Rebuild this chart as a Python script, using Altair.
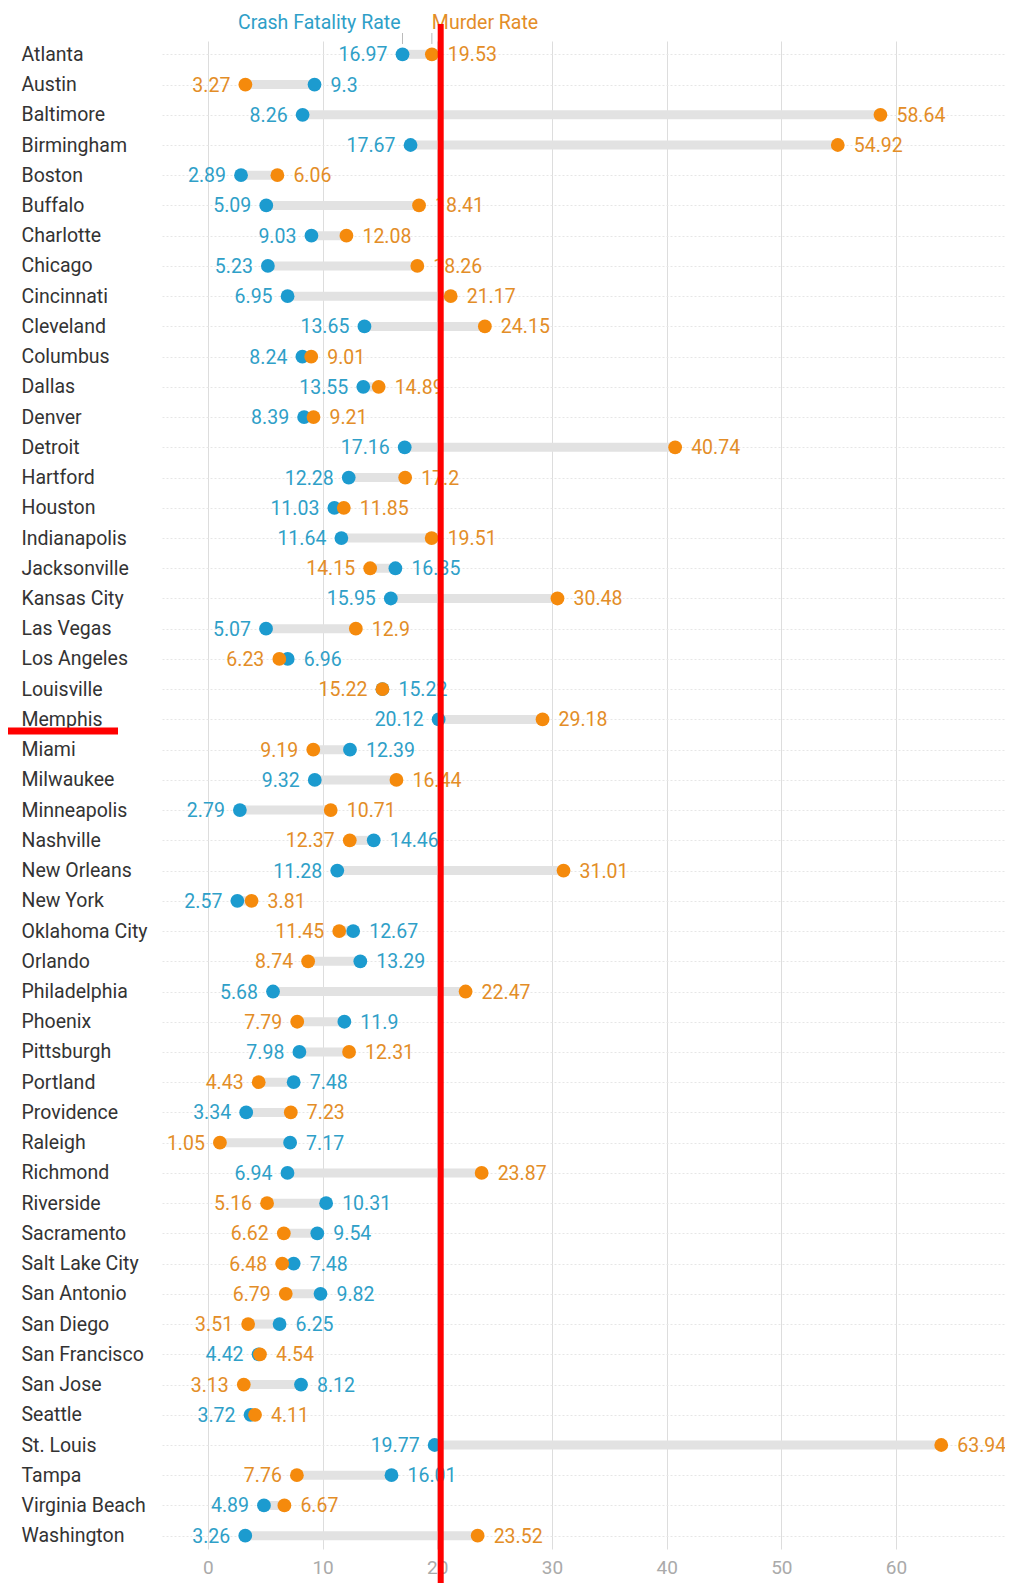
import altair as alt
import pandas as pd

cities = ["Atlanta", "Austin", "Baltimore", "Birmingham", "Boston", "Buffalo", "Charlotte",
          "Chicago", "Cincinnati", "Cleveland", "Columbus", "Dallas", "Denver", "Detroit",
          "Hartford", "Houston", "Indianapolis", "Jacksonville", "Kansas City", "Las Vegas",
          "Los Angeles", "Louisville", "Memphis", "Miami", "Milwaukee", "Minneapolis",
          "Nashville", "New Orleans", "New York", "Oklahoma City", "Orlando", "Philadelphia",
          "Phoenix", "Pittsburgh", "Portland", "Providence", "Raleigh", "Richmond",
          "Riverside", "Sacramento", "Salt Lake City", "San Antonio", "San Diego",
          "San Francisco", "San Jose", "Seattle", "St. Louis", "Tampa", "Virginia Beach",
          "Washington"]
crash = [16.97, 9.3, 8.26, 17.67, 2.89, 5.09, 9.03,
         5.23, 6.95, 13.65, 8.24, 13.55, 8.39, 17.16,
         12.28, 11.03, 11.64, 16.35, 15.95, 5.07,
         6.96, 15.22, 20.12, 12.39, 9.32, 2.79,
         14.46, 11.28, 2.57, 12.67, 13.29, 5.68,
         11.9, 7.98, 7.48, 3.34, 7.17, 6.94,
         10.31, 9.54, 7.48, 9.82, 6.25,
         4.42, 8.12, 3.72, 19.77, 16.01, 4.89,
         3.26]
murder = [19.53, 3.27, 58.64, 54.92, 6.06, 18.41, 12.08,
          18.26, 21.17, 24.15, 9.01, 14.89, 9.21, 40.74,
          17.2, 11.85, 19.51, 14.15, 30.48, 12.9,
          6.23, 15.22, 29.18, 9.19, 16.44, 10.71,
          12.37, 31.01, 3.81, 11.45, 8.74, 22.47,
          7.79, 12.31, 4.43, 7.23, 1.05, 23.87,
          5.16, 6.62, 6.48, 6.79, 3.51,
          4.54, 3.13, 4.11, 63.94, 7.76, 6.67,
          23.52]
series_names = ["Crash Fatality Rate", "Murder Rate"]
x_ticks = [0, 10, 20, 30, 40, 50, 60]
marker_value = [20.3]
marker_city = ["Memphis"]

BLUE = "#1c9bcf"
ORANGE = "#f58a0c"
BLUE_T = "#2f9fc8"
ORANGE_T = "#e38d27"
FONT = "Roboto"

wide = pd.DataFrame({"city": cities, "crash": crash, "murder": murder})
wide["lo"] = wide[["crash", "murder"]].min(axis=1)
wide["hi"] = wide[["crash", "murder"]].max(axis=1)

rows = []
for c, cr, mu in zip(cities, crash, murder):
    crash_left = cr < mu
    rows.append({"city": c, "series": series_names[0], "value": cr,
                 "side": "left" if crash_left else "right", "label": f"{cr:g}"})
    rows.append({"city": c, "series": series_names[1], "value": mu,
                 "side": "right" if crash_left else "left", "label": f"{mu:g}"})
long = pd.DataFrame(rows)

xscale = alt.Scale(domain=[-4, 69.5], nice=False, zero=False)
xaxis = alt.Axis(values=x_ticks, title=None, domain=False, ticks=False,
                 labelColor="#aaaaaa", labelFontSize=19, labelFont=FONT,
                 labelPadding=9, grid=True, gridColor="#dddddd")
yenc = alt.Y("city:N", sort=cities, title=None,
             scale=alt.Scale(type="point", padding=0.44),
             axis=alt.Axis(title=None, labelAlign="left", labelPadding=141, ticks=False,
                           tickSize=0, domain=False, labelFont=FONT, labelFontSize=19.5,
                           labelColor="#333333", grid=True, gridDash=[2, 2],
                           gridColor="#e6e6e6"))

bars = alt.Chart(wide).mark_rule(color="#e2e2e2", strokeWidth=9).encode(
    x=alt.X("lo:Q", scale=xscale, axis=xaxis), x2="hi:Q", y=yenc)

dots_c = alt.Chart(wide).mark_circle(size=190, opacity=1, color=BLUE).encode(
    x=alt.X("crash:Q", scale=xscale, axis=xaxis), y=yenc)
dots_m = alt.Chart(wide).mark_circle(size=190, opacity=1, color=ORANGE).encode(
    x=alt.X("murder:Q", scale=xscale, axis=xaxis), y=yenc)

tcolor = alt.Color("series:N", scale=alt.Scale(domain=series_names, range=[BLUE_T, ORANGE_T]),
                   legend=None)
lab_left = alt.Chart(long).transform_filter(alt.datum.side == "left").mark_text(
    align="right", baseline="middle", dx=-15, dy=1, fontSize=19.5, font=FONT).encode(
    x=alt.X("value:Q", scale=xscale, axis=xaxis), y=yenc, text="label:N", color=tcolor)
lab_right = alt.Chart(long).transform_filter(alt.datum.side == "right").mark_text(
    align="left", baseline="middle", dx=16, dy=1, fontSize=19.5, font=FONT).encode(
    x=alt.X("value:Q", scale=xscale, axis=xaxis), y=yenc, text="label:N", color=tcolor)

hdr = wide[wide.city == cities[0]]
hdr_c = alt.Chart(hdr).mark_text(align="right", baseline="middle", dx=-2, fontSize=19.5,
                                 font=FONT, color=BLUE_T).encode(
    x=alt.X("crash:Q", scale=xscale, axis=xaxis), y=alt.value(-18),
    text=alt.value(series_names[0]))
hdr_m = alt.Chart(hdr).mark_text(align="left", baseline="middle", dx=0, fontSize=19.5,
                                 font=FONT, color=ORANGE_T).encode(
    x=alt.X("murder:Q", scale=xscale, axis=xaxis), y=alt.value(-18),
    text=alt.value(series_names[1]))
hdr_tc = alt.Chart(hdr).mark_rule(color="#bbbbbb", strokeWidth=1).encode(
    x=alt.X("crash:Q", scale=xscale, axis=xaxis), y=alt.value(-8), y2=alt.value(3))
hdr_tm = alt.Chart(hdr).mark_rule(color="#bbbbbb", strokeWidth=1).encode(
    x=alt.X("murder:Q", scale=xscale, axis=xaxis), y=alt.value(-8), y2=alt.value(3))

red_v = alt.Chart(pd.DataFrame({"v": marker_value})).mark_rule(color="#ff0000", strokeWidth=6).encode(
    x=alt.X("v:Q", scale=xscale, axis=xaxis), y=alt.value(-17), y2=alt.value(1600))
red_h = alt.Chart(pd.DataFrame({"city": marker_city})).mark_rule(
    color="#ff0000", strokeWidth=7, yOffset=11.5).encode(
    y=yenc, x=alt.value(-159), x2=alt.value(-44))

chart = alt.layer(bars, dots_c, dots_m, lab_left, lab_right, hdr_c, hdr_m, hdr_tc, hdr_tm,
                  red_v, red_h).properties(
    width=843, height=1508,
    padding={"left": 154, "top": 33, "right": 0, "bottom": 34},
    autosize=alt.AutoSizeParams(type="none"),
    background="white",
).configure_view(stroke=None)

chart.save("out.html", embed_options={"renderer": "svg", "actions": False})
